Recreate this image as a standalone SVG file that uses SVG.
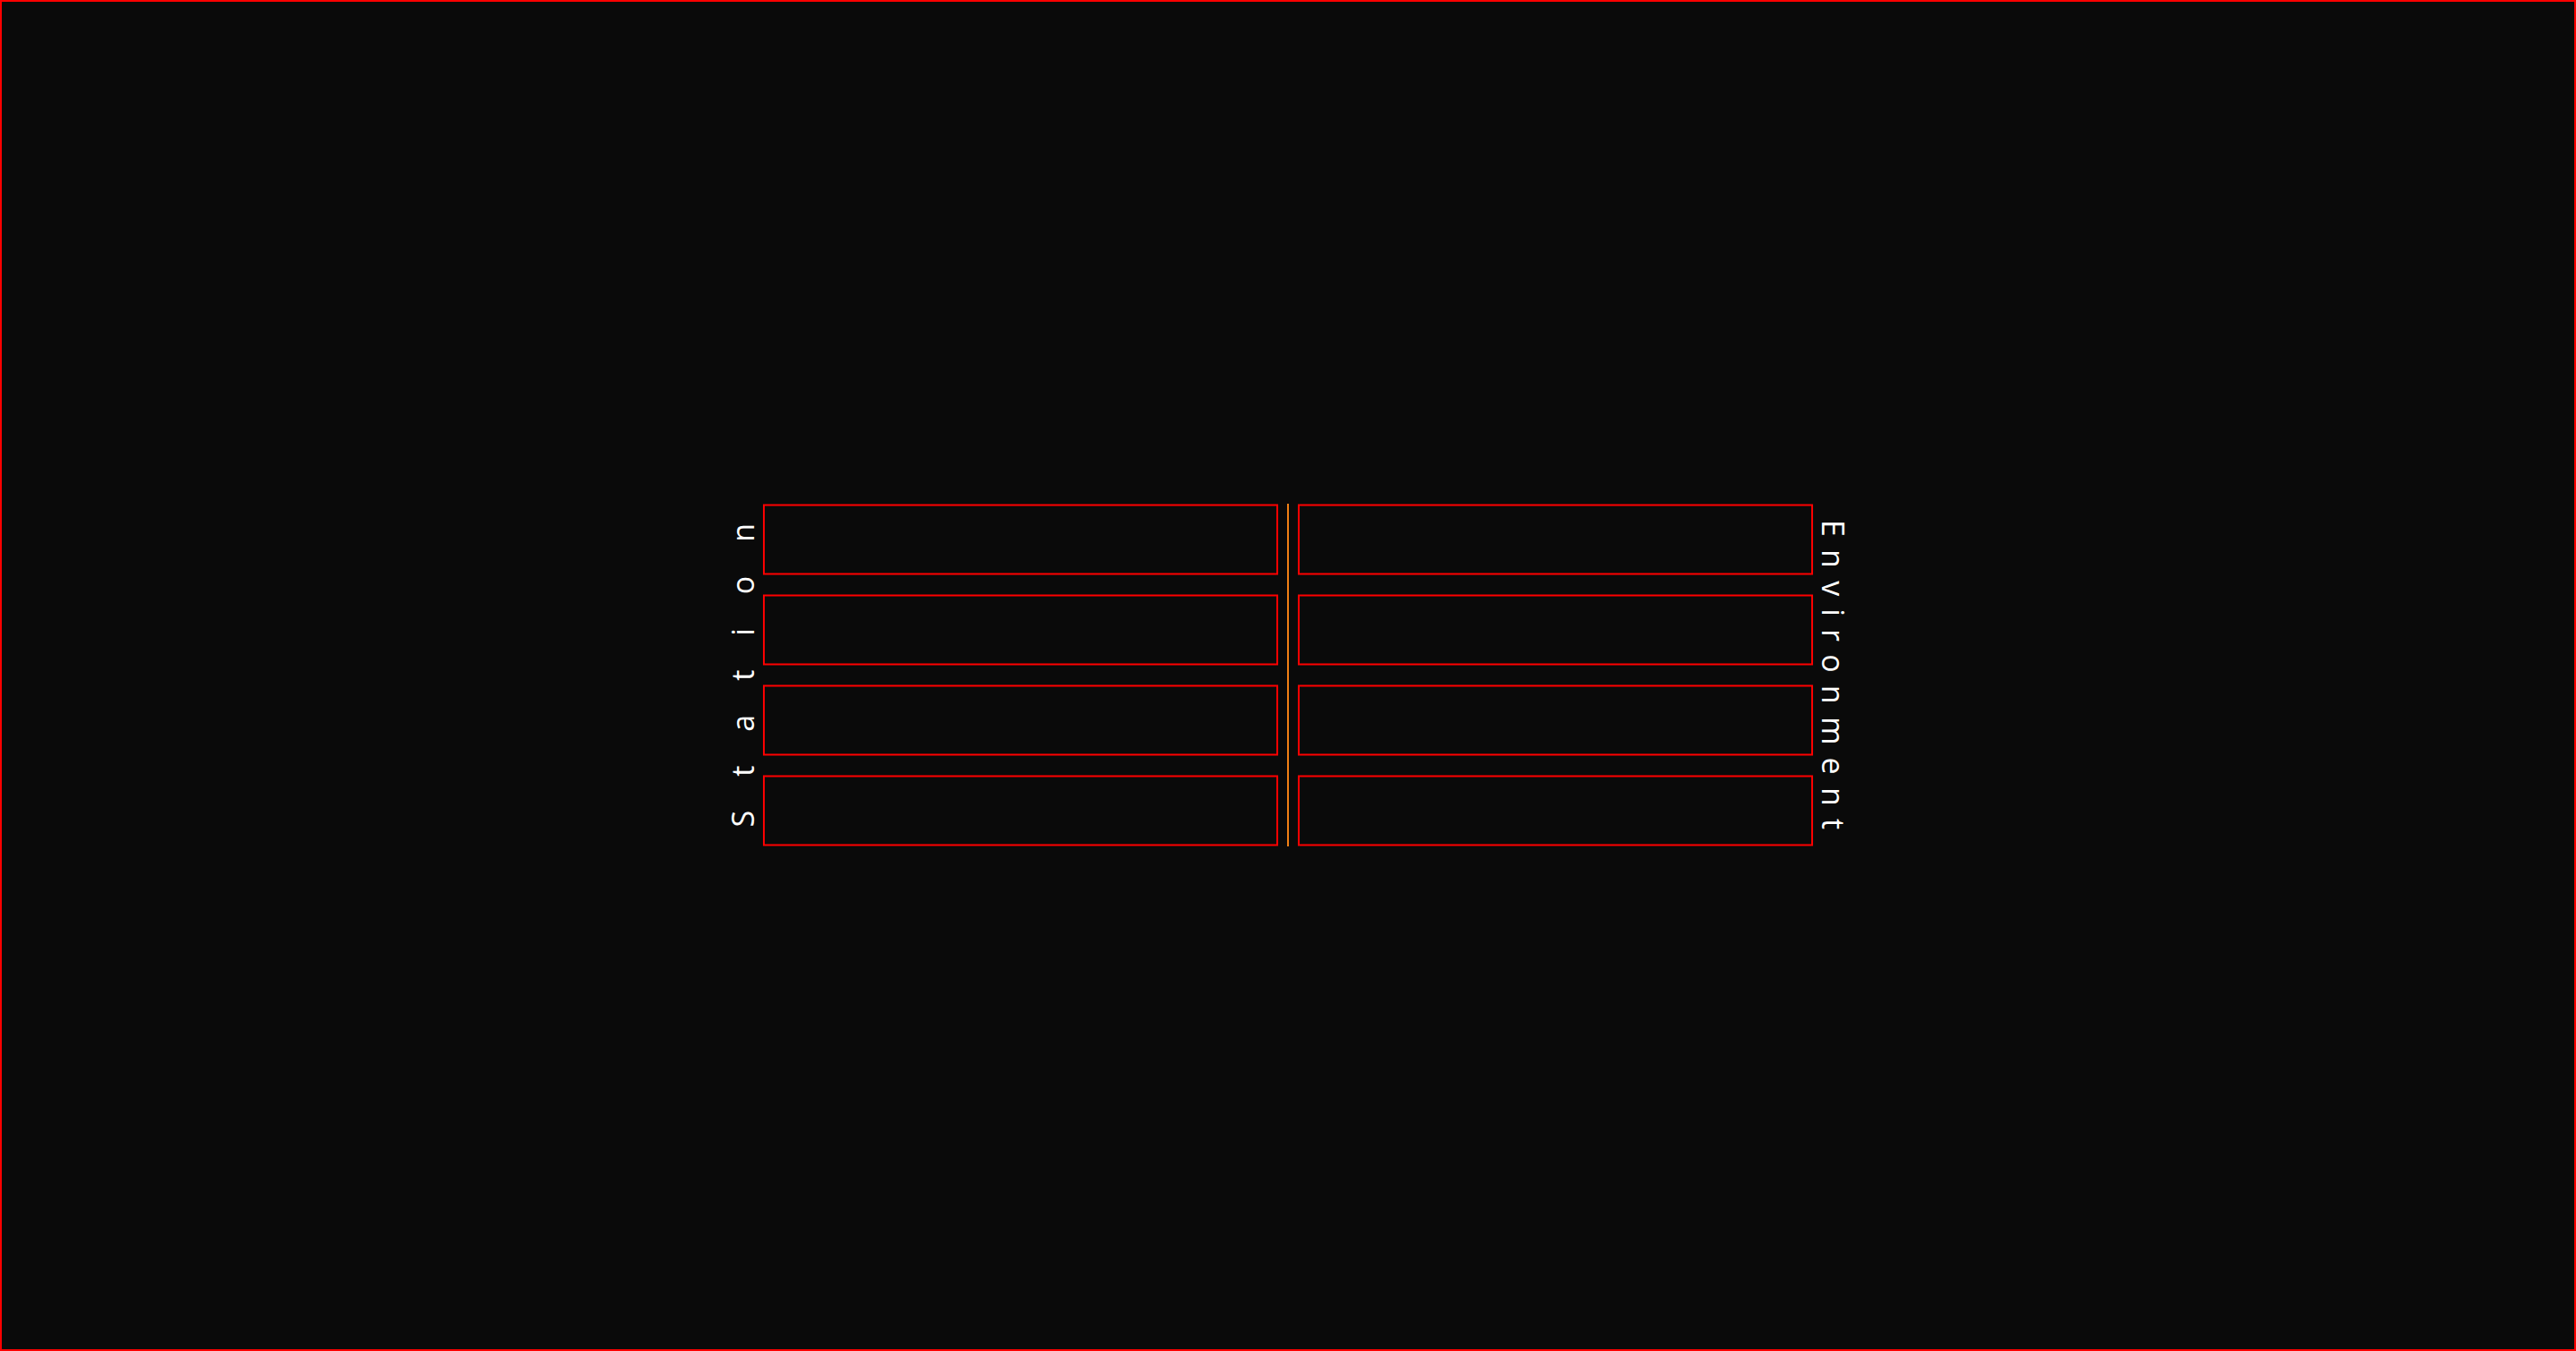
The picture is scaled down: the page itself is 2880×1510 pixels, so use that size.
<svg xmlns="http://www.w3.org/2000/svg" width="2880" height="1510" viewBox="0 0 2880 1510">
  <style>
    .frame { fill: #0a0a0a; stroke: #ff0000; stroke-width: 2; }
    .slot { fill: #0a0a0a; stroke: #ff0000; stroke-width: 2; }
    .divider { stroke: #f28015; stroke-width: 2; fill: none; }
    .label { font-family: "Open Sans", "DejaVu Sans", sans-serif; font-size: 34px; fill: #ffffff; }
  </style>
  <rect class="frame" x="1" y="1" width="2878" height="1508"/>

  <g id="station-slots">
    <rect id="station-1" class="slot" x="854" y="564.5" width="574" height="77"/>
    <rect id="station-2" class="slot" x="854" y="665.5" width="574" height="77"/>
    <rect id="station-3" class="slot" x="854" y="766.5" width="574" height="77"/>
    <rect id="station-4" class="slot" x="854" y="867.5" width="574" height="77"/>
  </g>

  <g id="environment-slots">
    <rect id="environment-1" class="slot" x="1452" y="564.5" width="574" height="77"/>
    <rect id="environment-2" class="slot" x="1452" y="665.5" width="574" height="77"/>
    <rect id="environment-3" class="slot" x="1452" y="766.5" width="574" height="77"/>
    <rect id="environment-4" class="slot" x="1452" y="867.5" width="574" height="77"/>
  </g>

  <g id="connectors">
    <line class="divider" x1="1440" y1="563" x2="1440" y2="946"/>
  </g>

  <g id="station-label">
    <text class="label" transform="translate(843.3,924.5) rotate(-90)" letter-spacing="38">Station</text>
  </g>
  <g id="environment-label">
    <text class="label" transform="translate(2036.7,581) rotate(90)" letter-spacing="14.2">Environment</text>
  </g>
</svg>
